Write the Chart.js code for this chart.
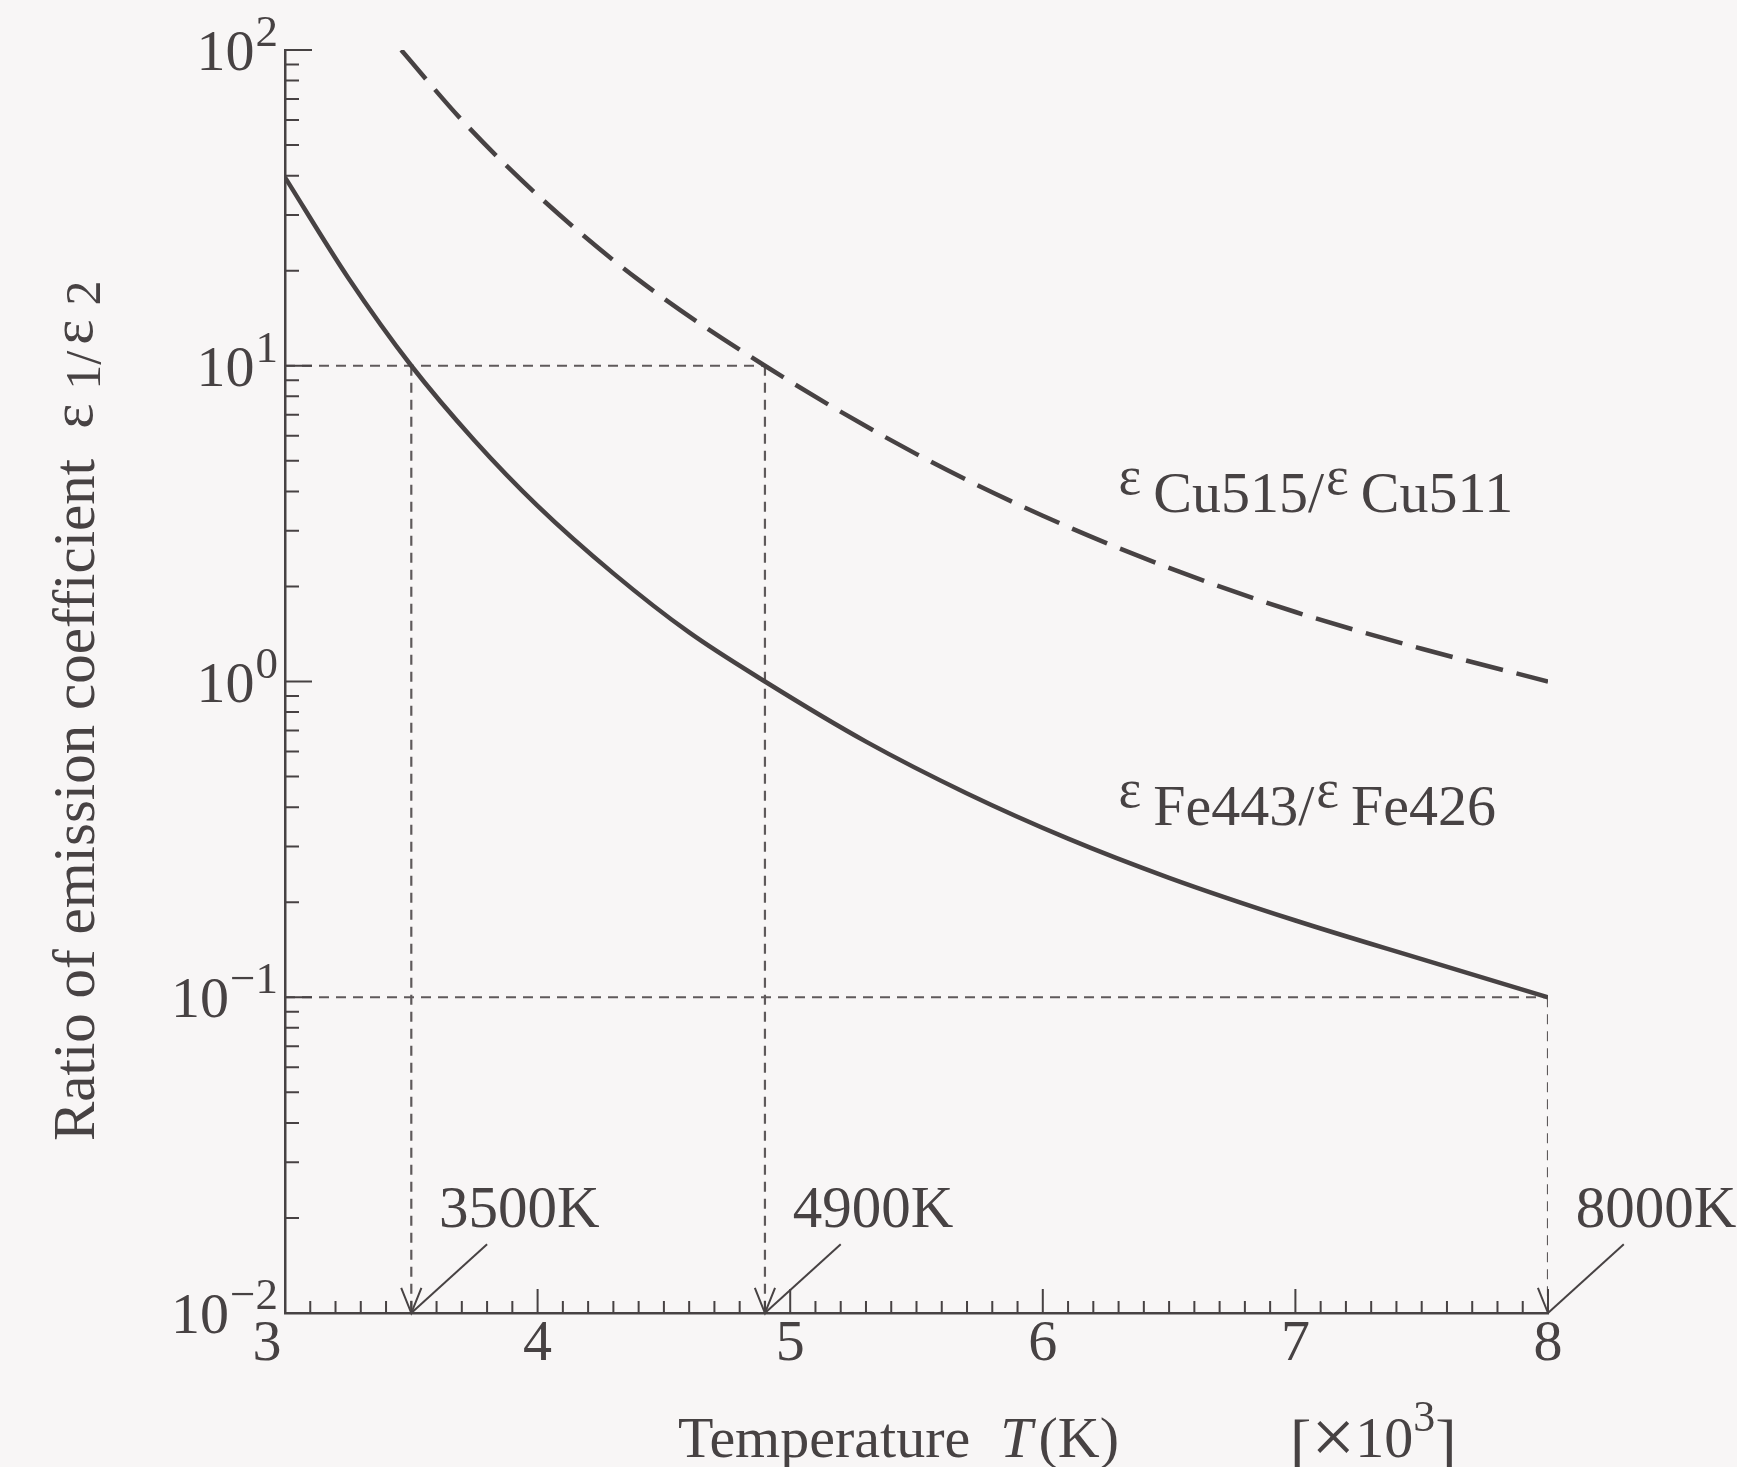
<!DOCTYPE html>
<html><head><meta charset="utf-8">
<script src="https://cdn.jsdelivr.net/npm/chart.js@4.4.1/dist/chart.umd.min.js"></script>
<style>html,body{margin:0;padding:0;background:#f8f6f6;}canvas{display:block;}</style>
</head><body>
<canvas id="c" width="1737" height="1467"></canvas>
<script>
// ---- data ----
const feTemps  = [3.0, 3.25, 3.5, 3.75, 4.0, 4.3, 4.6, 4.9, 5.3, 5.7, 6.1, 6.5, 7.0, 7.5, 8.0];
const feRatios = [39.5, 19.0, 10, 5.8, 3.6, 2.2, 1.43, 1.0, 0.645, 0.442, 0.318, 0.239, 0.175, 0.132, 0.1];
const cuTemps  = [3.46, 3.7, 4.0, 4.4, 4.9, 5.5, 6.0, 6.5, 7.0, 7.5, 8.0];
const cuRatios = [100, 60, 34.7, 18.7, 10, 5.25, 3.35, 2.29, 1.66, 1.27, 1.0];
const markerTemps  = [3.5, 4.9, 8.0];
const markerRatios = [10, 10, 0.1];
const markerLabels = ['3500K', '4900K', '8000K'];
const xTickValues = [3, 4, 5, 6, 7, 8];
const xTickLabels = ['3', '4', '5', '6', '7', '8'];
const yTickValues = [0.01, 0.1, 1, 10, 100];
const yTickExps   = ['\u22122', '\u22121', '0', '1', '2'];
const xMin = 3, xMax = 8, yMin = 0.01, yMax = 100;

// ---- styling ----
const FONT = '"Liberation Serif", "Times New Roman", serif';
const INK = '#474243';
const LINE = '#474243';
const GUIDE = '#5f5a5b';
const f = (px, it) => (it ? 'italic ' : '') + px + 'px ' + FONT;

const pts = (xs, ys) => xs.map((t, i) => ({x: t, y: ys[i]}));
const datasets = [
  {label: 'Fe', data: pts(feTemps, feRatios), borderColor: LINE, borderWidth: 4.5, cubicInterpolationMode: 'monotone'},
  {label: 'Cu', data: pts(cuTemps, cuRatios), borderColor: LINE, borderWidth: 4.5, borderDash: [38, 14], cubicInterpolationMode: 'monotone'}
];
// horizontal guide lines
[...new Set(markerRatios)].forEach(r => {
  const tEnd = Math.max(...markerTemps.filter((t, i) => markerRatios[i] === r));
  datasets.push({data: [{x: xMin, y: r}, {x: tEnd, y: r}], borderColor: GUIDE, borderWidth: 2.2, borderDash: [10, 7]});
});
markerTemps.forEach((t, i) => {
  // vertical guide
  datasets.push({data: [{x: t, y: markerRatios[i]}, {x: t, y: yMin}], borderColor: GUIDE, borderWidth: 2.2, borderDash: [10, 7]});
  // diagonal pointer from label
  datasets.push({data: [{x: t + 0.3, y: 0.0165}, {x: t, y: yMin}], borderColor: LINE, borderWidth: 2, clip: false});
  // arrow head
  datasets.push({data: [{x: t - 0.04, y: 0.0120}, {x: t, y: yMin}, {x: t + 0.04, y: 0.0120}], borderColor: LINE, borderWidth: 2, clip: false});
});
datasets.forEach(d => { d.showLine = true; d.pointRadius = 0; d.fill = false; });

const decor = {
  id: 'decor',
  afterDraw(chart) {
    const {ctx, chartArea: a, scales: {x, y}} = chart;
    ctx.save();
    ctx.strokeStyle = INK; ctx.fillStyle = INK; ctx.lineWidth = 2;
    ctx.beginPath();
    for (let i = 0; i <= (xMax - xMin) * 10; i++) {
      const px = x.getPixelForValue(xMin + i / 10);
      const len = (i % 10 === 0) ? 24 : 12;
      ctx.moveTo(px, a.bottom); ctx.lineTo(px, a.bottom - len);
    }
    for (let k = -2; k <= 2; k++) {
      for (let m = 1; m <= 9; m++) {
        const v = m * Math.pow(10, k);
        if (v > yMax) break;
        const py = y.getPixelForValue(v);
        ctx.moveTo(a.left, py); ctx.lineTo(a.left + (m === 1 ? 27 : 14), py);
      }
    }
    ctx.stroke();

    // x tick labels
    ctx.textAlign = 'center'; ctx.textBaseline = 'alphabetic'; ctx.font = f(58);
    xTickValues.forEach((v, i) => {
      const px = x.getPixelForValue(v) - (i === 0 ? 18 : 0);
      ctx.fillText(xTickLabels[i], px, a.bottom + 47);
    });
    // y tick labels 10^k
    yTickValues.forEach((v, i) => {
      const py = y.getPixelForValue(v);
      const right = a.left - 7;
      ctx.font = f(45); ctx.textAlign = 'right';
      const sw = ctx.measureText(yTickExps[i]).width;
      ctx.fillText(yTickExps[i], right, py - 4);
      ctx.font = f(58);
      ctx.fillText('10', right - sw - 1, py + 20);
    });

    // marker labels
    ctx.textAlign = 'left'; ctx.font = f(59);
    markerTemps.forEach((t, i) => {
      ctx.fillText(markerLabels[i], x.getPixelForValue(t + 0.11), y.getPixelForValue(0.0187));
    });

    // series labels
    const seriesLabel = (parts, t, r) => {
      let px = x.getPixelForValue(t);
      const py = y.getPixelForValue(r);
      parts.forEach(p => {
        if (p.eps) {
          ctx.font = f(54);
          ctx.fillText('\u03b5', px, py - 18);
          px += ctx.measureText('\u03b5').width + 12;
        } else {
          ctx.font = f(58);
          ctx.fillText(p.t, px, py);
          px += ctx.measureText(p.t).width + 2;
        }
      });
    };
    seriesLabel([{eps: 1}, {t: 'Cu515/'}, {eps: 1}, {t: 'Cu511'}], 6.3, 3.44);
    seriesLabel([{eps: 1}, {t: 'Fe443/'}, {eps: 1}, {t: 'Fe426'}], 6.3, 0.351);

    // x-axis title
    ctx.textAlign = 'left';
    let tx = 678; const ty = 1457;
    ctx.font = f(58); ctx.fillText('Temperature', tx, ty);
    tx += ctx.measureText('Temperature').width + 30;
    ctx.font = f(58, true); ctx.fillText('T', tx, ty);
    tx += ctx.measureText('T').width + 6;
    ctx.font = f(58); ctx.fillText('(K)', tx, ty);
    tx = 1290;
    ctx.font = f(64); ctx.fillText('[', tx, ty + 6);
    tx += ctx.measureText('[').width;
    ctx.font = f(78); ctx.fillText('\u00d7', tx, ty + 6);
    tx += ctx.measureText('\u00d7').width;
    ctx.font = f(58); ctx.fillText('10', tx, ty);
    tx += ctx.measureText('10').width;
    ctx.font = f(44); ctx.fillText('3', tx, ty - 26);
    tx += ctx.measureText('3').width;
    ctx.font = f(64); ctx.fillText(']', tx, ty + 6);

    // y-axis title (rotated)
    ctx.save();
    ctx.translate(94, 1141);
    ctx.rotate(-Math.PI / 2);
    let ux = 0;
    const put = (s, size, dy, gap) => { ctx.font = f(size); ctx.fillText(s, ux, dy); ux += ctx.measureText(s).width + (gap || 0); };
    put('Ratio of emission coefficient', 59, 0, 30);
    put('\u03b5', 60, -2, 14);
    put('1/', 50, 6, 6);
    put('\u03b5', 60, -2, 14);
    put('2', 50, 6, 0);
    ctx.restore();

    ctx.restore();
  }
};

new Chart(document.getElementById('c'), {
  type: 'scatter',
  data: {datasets},
  options: {
    responsive: false,
    animation: false,
    devicePixelRatio: 1,
    layout: {padding: {left: 285, right: 189, top: 50, bottom: 154}},
    plugins: {legend: {display: false}, tooltip: {enabled: false}},
    scales: {
      x: {type: 'linear', min: xMin, max: xMax,
          grid: {display: false, drawTicks: false}, ticks: {display: false},
          border: {display: true, color: INK, width: 2.5}},
      y: {type: 'logarithmic', min: yMin, max: yMax,
          grid: {display: false, drawTicks: false}, ticks: {display: false},
          border: {display: true, color: INK, width: 2.5}}
    }
  },
  plugins: [decor]
});
</script>
</body></html>
